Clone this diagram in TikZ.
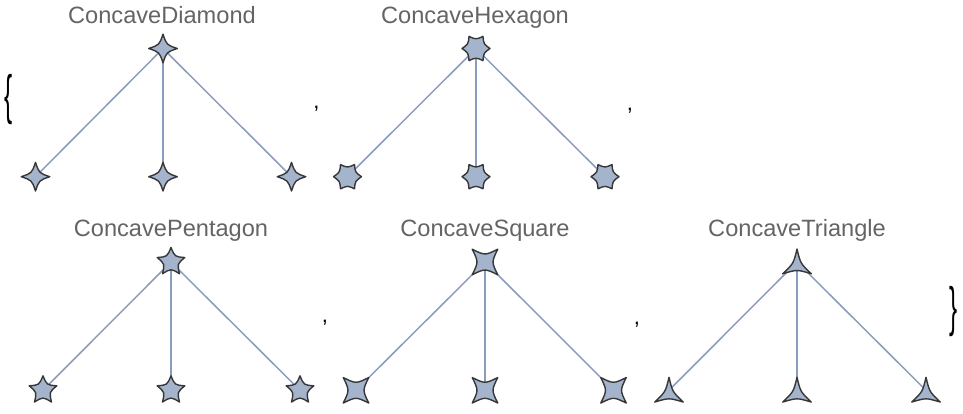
\documentclass[tikz,border=0pt]{standalone}
\usepackage{fontspec}
\setmainfont{Liberation Sans}
\definecolor{vfill}{RGB}{163,180,204}
\definecolor{edgec}{RGB}{138,156,188}
\definecolor{vdraw}{RGB}{55,55,55}
\definecolor{labc}{RGB}{100,100,100}
\tikzset{
  vshape/.style={fill=vfill, draw=vdraw, line width=1.4pt, line join=round},
  edgeline/.style={draw=edgec, line width=1.5pt},
  vtx/.style={inner sep=0pt, minimum size=0pt},
  lab/.style={text=labc, font=\fontsize{23.6}{27}\selectfont, anchor=base},
  punct/.style={font=\fontsize{22}{22}\selectfont, inner sep=0pt},
  bracestyle/.style={inner sep=0pt, font=\fontsize{54}{54}\selectfont},
  pics/cdiamond/.style={code={
    \path[vshape] (0:14.3) \foreach \a in {0,90,180,270}{ .. controls ({\a+45}:5.1) .. ({\a+90}:14.3)} -- cycle;}},
  pics/chexagon/.style={code={
    \path[vshape] (0:14) \foreach \a in {0,60,...,300}{ .. controls ({\a+30}:8.9) .. ({\a+60}:14)} -- cycle;}},
  pics/cpentagon/.style={code={
    \path[vshape] (90:14.5) \foreach \a in {90,162,...,378}{ .. controls ({\a+36}:6.5) .. ({\a+72}:14.5)} -- cycle;}},
  pics/csquare/.style={code={
    \path[vshape] (45:18) \foreach \a in {45,135,225,315}{ .. controls ({\a+45}:6.5) .. ({\a+90}:18)} -- cycle;}},
  pics/ctriangle/.style={code={
    \path[vshape,shift={(0,-3.5)}] (90:16.5) \foreach \a in {90,210,330}{ .. controls ({\a+60}:4) .. ({\a+120}:16.5)} -- cycle;}},
}
\begin{document}
\begin{tikzpicture}[x=1pt,y=1pt]
\useasboundingbox (0,0) rectangle (963,413);
% vertex positions
\node[vtx] (a0) at (163,364.5) {};
\node[vtx] (a1) at (35.5,236.3) {};
\node[vtx] (a2) at (163,236.3) {};
\node[vtx] (a3) at (291.5,236.3) {};
\node[vtx] (b0) at (476,364.5) {};
\node[vtx] (b1) at (347.5,236.3) {};
\node[vtx] (b2) at (476,236.3) {};
\node[vtx] (b3) at (605,236.3) {};
\node[vtx] (c0) at (171,151) {};
\node[vtx] (c1) at (43,22.7) {};
\node[vtx] (c2) at (171,22.7) {};
\node[vtx] (c3) at (300,22.7) {};
\node[vtx] (d0) at (485,151) {};
\node[vtx] (d1) at (356,22.7) {};
\node[vtx] (d2) at (485,22.7) {};
\node[vtx] (d3) at (613.5,22.7) {};
\node[vtx] (e0) at (797,151) {};
\node[vtx] (e1) at (669,22.7) {};
\node[vtx] (e2) at (797,22.7) {};
\node[vtx] (e3) at (926,22.7) {};
% edges
\foreach \g in {a,b,c,d,e}{
  \foreach \i in {1,2,3}{
    \draw[edgeline] (\g0.center) -- (\g\i.center);
  }
}
% vertex shapes
\foreach \i in {0,1,2,3}{
  \pic at (a\i) {cdiamond};
  \pic at (b\i) {chexagon};
  \pic at (c\i) {cpentagon};
  \pic at (d\i) {csquare};
  \pic at (e\i) {ctriangle};
}
% labels
\node[lab] (la) at (162,389.7) {ConcaveDiamond};
\node[lab] (lb) at (475,389.7) {ConcaveHexagon};
\node[lab] (lc) at (171,176.7) {ConcavePentagon};
\node[lab] (ld) at (485,176.7) {ConcaveSquare};
\node[lab] (le) at (797,176.7) {ConcaveTriangle};
% punctuation
\node[bracestyle] (lbrace) at (8.5,313) {\scalebox{0.45}[1]{\{}};
\node[bracestyle] (rbrace) at (954,101) {\scalebox{0.45}[1]{\}}};
\node[punct, anchor=base] (cm1) at (316.5,304) {,};
\node[punct, anchor=base] (cm2) at (630,302) {,};
\node[punct, anchor=base] (cm3) at (325,91) {,};
\node[punct, anchor=base] (cm4) at (637,89) {,};
\end{tikzpicture}
\end{document}
